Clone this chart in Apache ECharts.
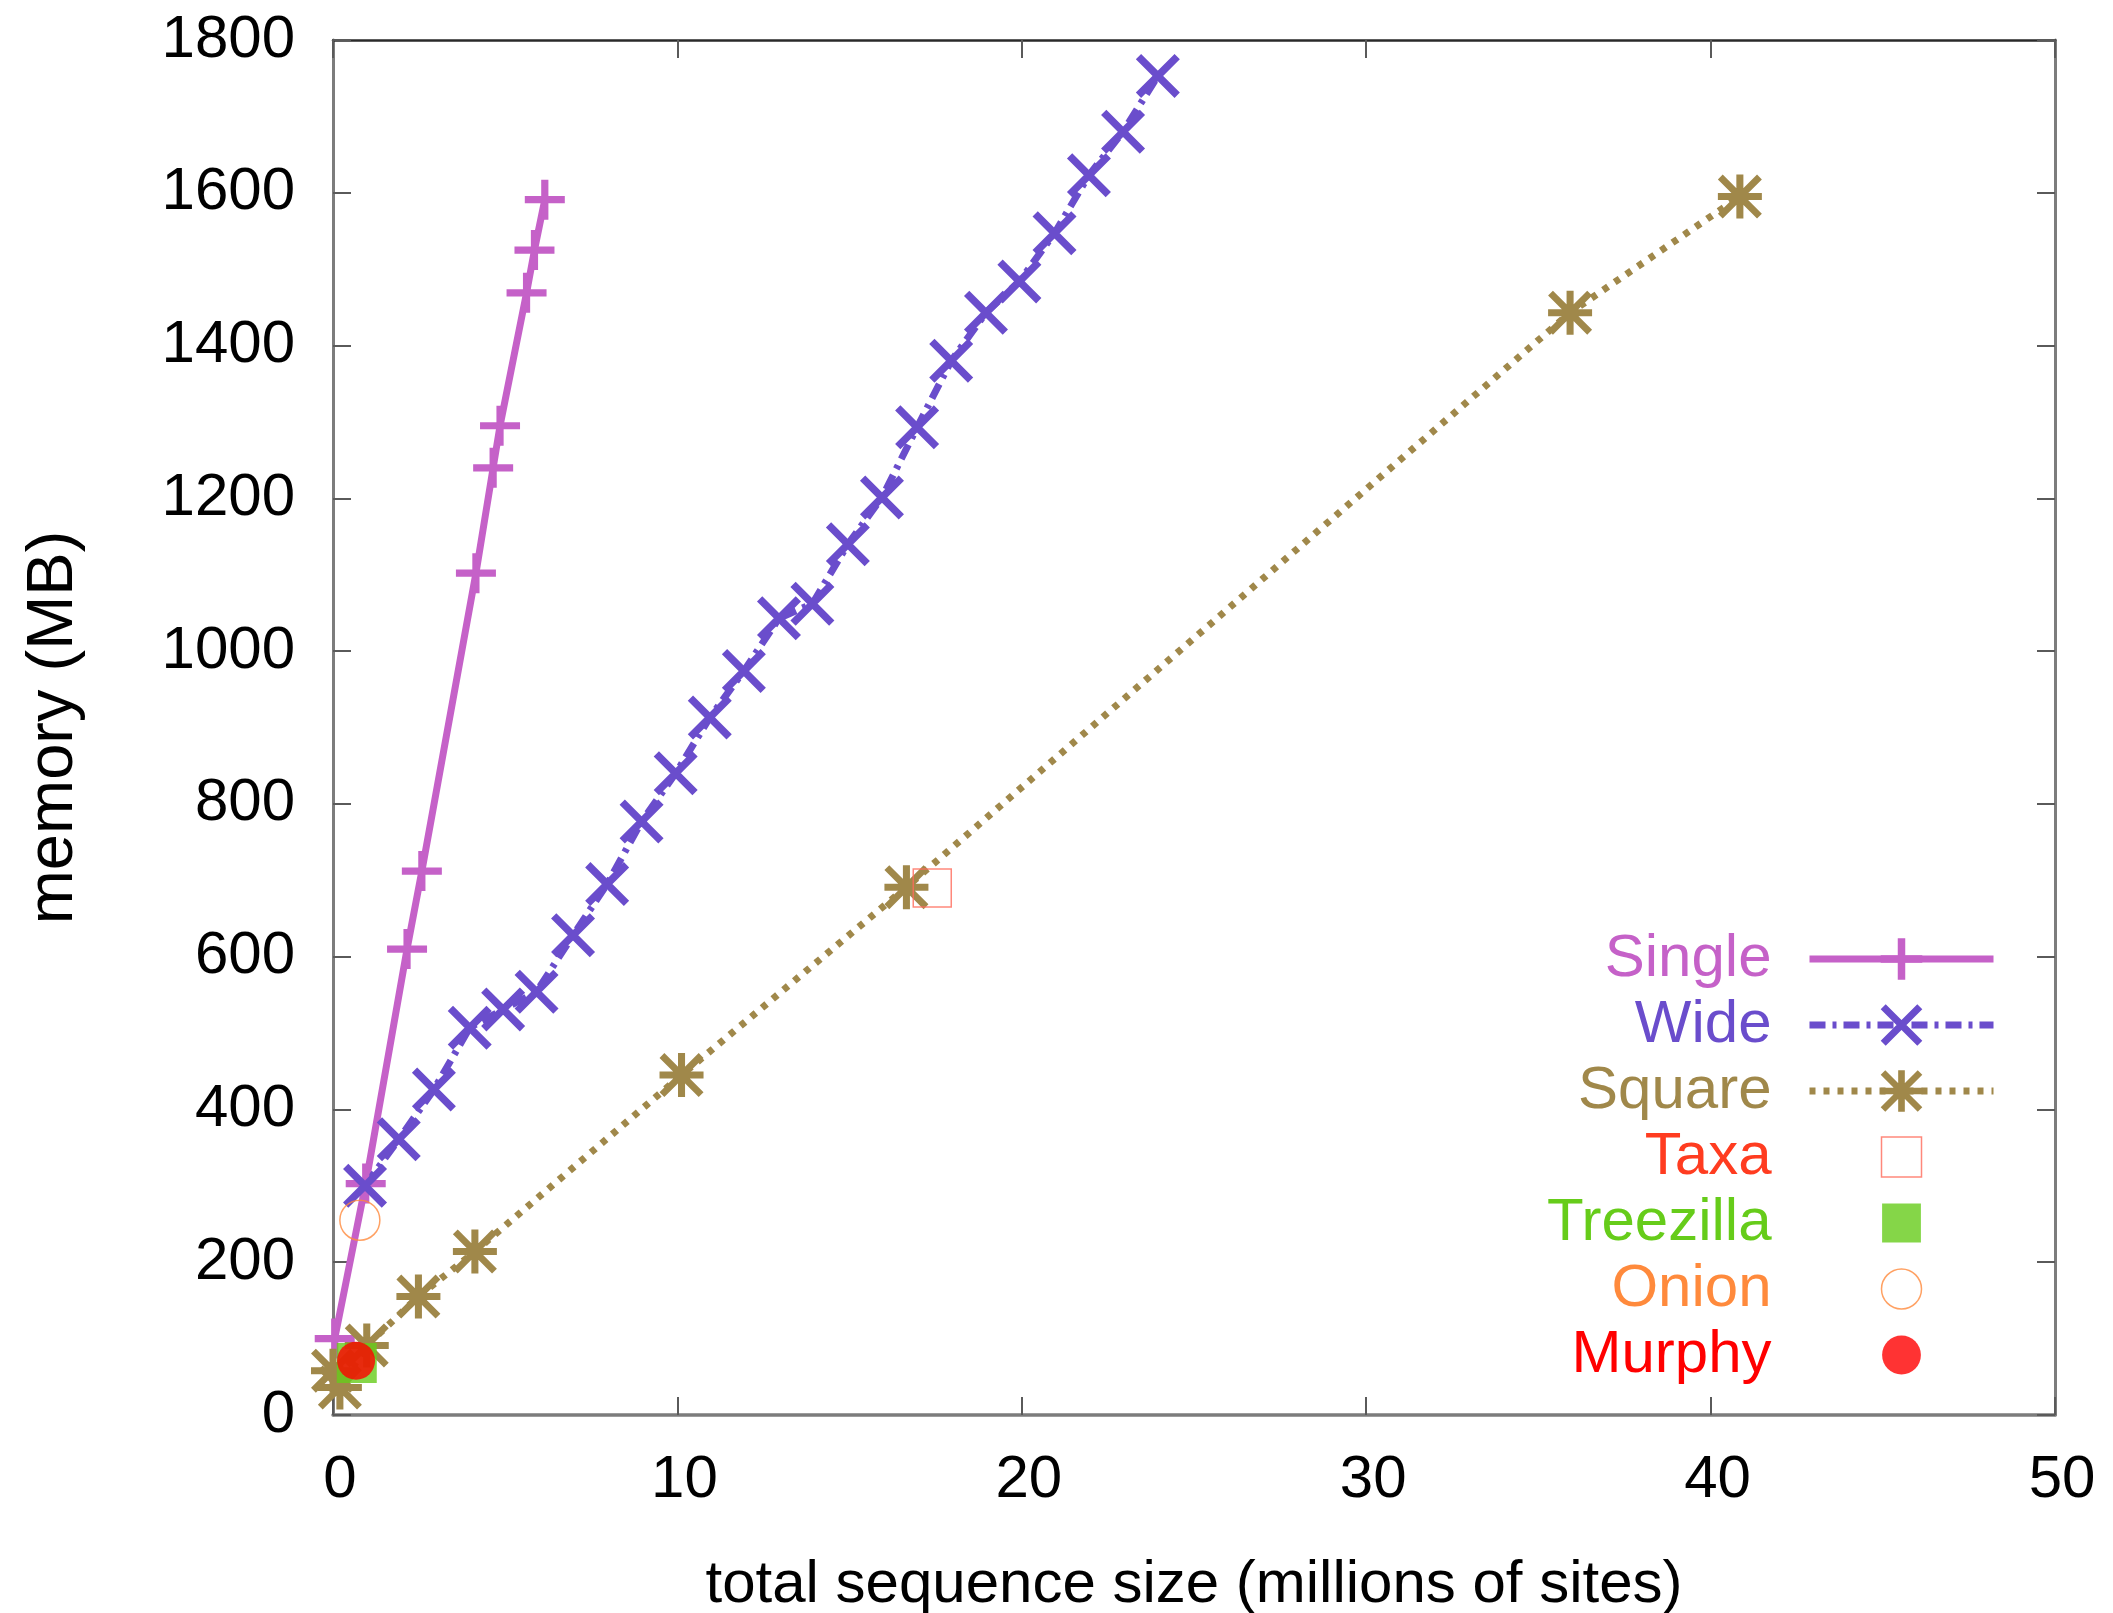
<!DOCTYPE html>
<html>
<head>
<meta charset="utf-8">
<script src="https://cdn.jsdelivr.net/npm/echarts@6/dist/echarts.min.js"></script>
<style>
html,body{margin:0;padding:0;background:#ffffff;}
#chart{width:2113px;height:1613px;}
</style>
</head>
<body>
<div id="chart"></div>
<script>
// ---------- data ----------
const xAxisMin = 0, xAxisMax = 50, xAxisStep = 10;
const yAxisMin = 0, yAxisMax = 1800, yAxisStep = 200;

const seriesNames = ['Single', 'Wide', 'Square', 'Taxa', 'Treezilla', 'Onion', 'Murphy'];

const singleX = [0.05, 0.95, 2.15, 2.58, 4.15, 4.65, 4.85, 5.62, 5.85, 6.15];
const singleY = [100, 303, 610, 712, 1102, 1240, 1295, 1469, 1525, 1591];

const wideX = [0.93, 1.91, 2.93, 3.97, 4.94, 5.91, 6.97, 7.96, 8.96, 9.95, 10.94, 11.93,
               12.95, 13.92, 14.95, 15.94, 16.96, 17.95, 18.96, 19.93, 20.95, 21.95, 22.94, 23.95];
const wideY = [300, 361, 426, 507, 531, 554, 628, 695, 777, 840, 913, 974,
               1043, 1062, 1140, 1201, 1293, 1380, 1443, 1484, 1547, 1623, 1680, 1753];

const squareX = [0.0, 0.2, 0.98, 2.48, 4.12, 10.12, 16.65, 35.92, 40.85];
const squareY = [58, 36, 91, 155, 214, 445, 691, 1443, 1595];

const taxaX = [17.4];      const taxaY = [690];
const treezillaX = [0.69]; const treezillaY = [68];
const onionX = [0.78];     const onionY = [255];
const murphyX = [0.67];    const murphyY = [71];

// ---------- styling ----------
const FONT = '"Liberation Sans", Arial, Helvetica, sans-serif';
const C = {
  single: '#c561c8',
  wide: '#6a4dcc',
  square: '#a0884a',
  taxaText: '#ff3c20',
  taxaMark: '#ff6a5a',
  treezilla: '#66cc1a',
  onion: '#ff8a3c',
  murphy: '#ff0000'
};
const PLUS = 'path://M41,0H59V41H100V59H59V100H41V59H0V41H41Z';
const CROSS = 'path://M0,12L12,0L100,88L88,100Z M88,0L100,12L12,100L0,88Z';
const STAR = 'path://M42,0H58V100H42Z M0,42H100V58H0Z M0,11L11,0L100,89L89,100Z M89,0L100,11L11,100L0,89Z';
// legend icons (padded so that they render ~40px inside a 52px item)
const ICON_SQ = 'path://M-1.5,-1.5M11.5,11.5M0,0H10V10H0Z';
const ICON_SQ_S = 'path://M-1.7,-1.7M11.7,11.7M0,0H10V10H0Z';
const ICON_CI = 'path://M-3,-3M23,23M0,10A10,10,0,1,1,20,10A10,10,0,1,1,0,10Z';
const ICON_CI_S = 'path://M-3.4,-3.4M23.4,23.4M0,10A10,10,0,1,1,20,10A10,10,0,1,1,0,10Z';

function zip(xs, ys) { return xs.map((x, i) => [x, ys[i]]); }

const axisGray = '#7c7c7c';
const tickStyle = { show: true, inside: true, length: 18, lineStyle: { color: '#5a5a5a', width: 2 } };
const labelStyle = { fontSize: 60, color: '#000', fontFamily: FONT, formatter: (v) => String(v) };

const LW = 7;
const WIDE_DASH = [16, 7, 4, 7];
const SQUARE_DOT = [6, 8];

const chart = echarts.init(document.getElementById('chart'), null, { renderer: 'canvas' });

const option = {
  backgroundColor: '#ffffff',
  animation: false,
  grid: { left: 333, right: 58, top: 40, bottom: 198, containLabel: false, outerBoundsMode: 'none' },
  xAxis: [
    {
      type: 'value', position: 'bottom', min: xAxisMin, max: xAxisMax, interval: xAxisStep,
      axisLine: { show: true, onZero: false, lineStyle: { color: axisGray, width: 3.5 } },
      axisTick: tickStyle,
      axisLabel: Object.assign({ margin: 35, padding: [0, 0, 0, 14] }, labelStyle),
      splitLine: { show: false },
      name: 'total sequence size (millions of sites)',
      nameLocation: 'middle', nameGap: 140,
      nameTextStyle: { fontSize: 60, color: '#000', fontFamily: FONT }
    },
    {
      type: 'value', position: 'top', min: xAxisMin, max: xAxisMax, interval: xAxisStep,
      axisLine: { show: true, onZero: false, lineStyle: { color: '#2a2a2a', width: 2.5 } },
      axisTick: tickStyle,
      axisLabel: { show: false },
      splitLine: { show: false }
    }
  ],
  yAxis: [
    {
      type: 'value', position: 'left', min: yAxisMin, max: yAxisMax, interval: yAxisStep,
      axisLine: { show: true, onZero: false, lineStyle: { color: axisGray, width: 3 } },
      axisTick: tickStyle,
      axisLabel: Object.assign({ margin: 38 }, labelStyle),
      splitLine: { show: false },
      name: 'memory (MB)',
      nameLocation: 'middle', nameGap: 246, nameRotate: 90,
      nameTextStyle: { fontSize: 65, color: '#000', fontFamily: FONT }
    },
    {
      type: 'value', position: 'right', min: yAxisMin, max: yAxisMax, interval: yAxisStep,
      axisLine: { show: true, onZero: false, lineStyle: { color: axisGray, width: 3 } },
      axisTick: tickStyle,
      axisLabel: { show: false },
      splitLine: { show: false }
    }
  ],
  legend: {
    orient: 'vertical', align: 'right',
    right: 116, top: 929, padding: 0,
    itemWidth: 184, itemHeight: 52, itemGap: 6,
    selectedMode: false,
    textStyle: { fontSize: 60, fontFamily: FONT, padding: [0, 33, 0, 0] },
    data: [
      { name: seriesNames[0], textStyle: { color: C.single },
        lineStyle: { color: C.single, width: LW, type: 'solid' },
        itemStyle: { color: C.single, borderWidth: 0 } },
      { name: seriesNames[1], textStyle: { color: C.wide },
        lineStyle: { color: C.wide, width: LW, type: WIDE_DASH },
        itemStyle: { color: C.wide, borderWidth: 0 } },
      { name: seriesNames[2], textStyle: { color: C.square },
        lineStyle: { color: C.square, width: LW, type: SQUARE_DOT },
        itemStyle: { color: C.square, borderWidth: 0 } },
      { name: seriesNames[3], icon: ICON_SQ, textStyle: { color: C.taxaText },
        itemStyle: { color: 'rgba(0,0,0,0)', borderColor: C.taxaMark, borderWidth: 1.5 } },
      { name: seriesNames[4], icon: ICON_SQ_S, textStyle: { color: C.treezilla },
        itemStyle: { color: C.treezilla, borderWidth: 0 } },
      { name: seriesNames[5], icon: ICON_CI, textStyle: { color: C.onion },
        itemStyle: { color: 'rgba(0,0,0,0)', borderColor: C.onion, borderWidth: 1.5 } },
      { name: seriesNames[6], icon: ICON_CI_S, textStyle: { color: C.murphy },
        itemStyle: { color: C.murphy, borderWidth: 0 } }
    ]
  },
  series: [
    {
      name: seriesNames[0], type: 'line', z: 3, data: zip(singleX, singleY),
      symbol: PLUS, symbolSize: 40, showAllSymbol: true, clip: false,
      lineStyle: { color: C.single, width: LW, type: 'solid' },
      itemStyle: { color: C.single, borderWidth: 0 },
      emphasis: { disabled: true }
    },
    {
      name: seriesNames[1], type: 'line', z: 3, data: zip(wideX, wideY),
      symbol: CROSS, symbolSize: 44, showAllSymbol: true, clip: false,
      lineStyle: { color: C.wide, width: LW, type: WIDE_DASH },
      itemStyle: { color: C.wide, borderWidth: 0 },
      emphasis: { disabled: true }
    },
    {
      name: seriesNames[2], type: 'line', z: 3, data: zip(squareX, squareY),
      symbol: STAR, symbolSize: 44, showAllSymbol: true, clip: false,
      lineStyle: { color: C.square, width: LW, type: SQUARE_DOT },
      itemStyle: { color: C.square, borderWidth: 0 },
      emphasis: { disabled: true }
    },
    {
      name: seriesNames[3], type: 'scatter', z: 5, data: zip(taxaX, taxaY),
      symbol: 'rect', symbolSize: 38, clip: false,
      itemStyle: { color: 'rgba(0,0,0,0)', borderColor: C.taxaMark, borderWidth: 1.5 },
      emphasis: { disabled: true }
    },
    {
      name: seriesNames[4], type: 'scatter', z: 6, data: zip(treezillaX, treezillaY),
      symbol: 'rect', symbolSize: 40, clip: false,
      itemStyle: { color: C.treezilla, borderWidth: 0 },
      emphasis: { disabled: true }
    },
    {
      name: seriesNames[5], type: 'scatter', z: 7, data: zip(onionX, onionY),
      symbol: 'circle', symbolSize: 40, clip: false,
      itemStyle: { color: 'rgba(0,0,0,0)', borderColor: C.onion, borderWidth: 1.5 },
      emphasis: { disabled: true }
    },
    {
      name: seriesNames[6], type: 'scatter', z: 8, data: zip(murphyX, murphyY),
      symbol: 'circle', symbolSize: 38, clip: false,
      itemStyle: { color: C.murphy, borderWidth: 0 },
      emphasis: { disabled: true }
    }
  ]
};

chart.setOption(option);
</script>
</body>
</html>
